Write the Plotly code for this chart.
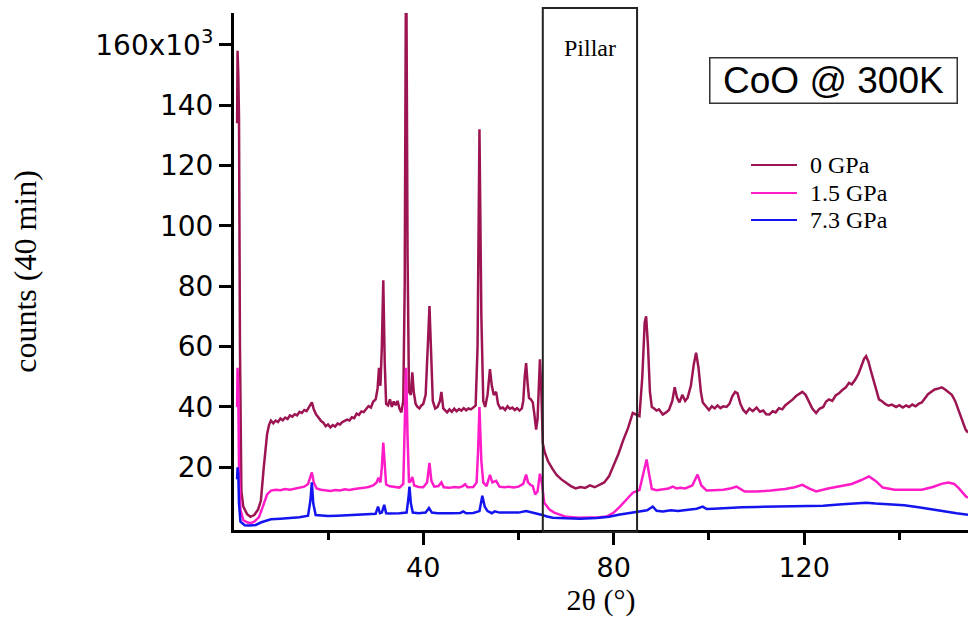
import plotly.graph_objects as go

# ---- data ----
x_0gpa = [0.9, 1.0, 1.15, 1.3, 1.5, 1.8, 2.2, 3.0, 3.7, 4.5, 5.3, 5.9, 6.5, 7.2, 7.6, 8.0, 8.5, 9.0, 9.5, 10,
          10.5, 11, 11.5, 12, 12.5, 13, 13.5, 14, 14.5, 15, 15.5, 16, 16.6, 17.0, 17.5, 18, 18.5, 19, 19.5, 20,
          20.5, 21, 21.5, 22, 22.5, 23, 23.5, 24, 24.5, 25, 25.5, 26, 26.5, 27, 27.5, 28, 28.5, 29, 29.5, 30,
          30.4, 30.7, 31.0, 31.3, 31.6, 31.9, 32.2, 32.6, 33, 33.4, 33.8, 34.2, 34.6, 35.0, 35.4, 35.8, 36.1, 36.4, 36.7, 37.0,
          37.4, 37.7, 38.0, 38.4, 38.8, 39.2, 39.6, 40.0, 40.5, 41.0, 41.3, 41.6, 42.0, 42.5, 43.0, 43.5, 43.8, 44.2, 44.6, 45,
          45.5, 46, 46.5, 47, 47.5, 48, 48.5, 49, 49.5, 50, 50.5, 51.0, 51.4, 51.8, 52.2, 52.6, 53, 53.5, 54.0, 54.4,
          54.8, 55.3, 55.7, 56.2, 56.7, 57.2, 57.7, 58.2, 58.7, 59.2, 59.7, 60.2, 60.7, 61.0, 61.3, 61.6, 61.9, 62.2, 62.6, 63.0,
          63.3, 63.7, 64.0, 64.3, 64.5, 64.8, 65.1, 65.5, 66.2, 67.2, 68, 69, 70, 71, 72, 73, 74, 75, 76, 77,
          78, 79, 80, 81, 82, 83, 84, 84.6, 85.4, 86.0, 86.5, 86.8, 87.2, 87.6, 88, 88.5, 89, 89.5, 90.3, 91,
          91.6, 92.3, 92.8, 93.3, 93.8, 94.4, 95, 95.5, 96.2, 96.8, 97.3, 97.8, 98.3, 98.7, 99.3, 100, 100.6, 101.2, 101.8, 102.4,
          103, 103.7, 104.3, 104.9, 105.5, 106.0, 106.6, 107.2, 107.8, 108.5, 109.2, 110, 110.7, 111.4, 112, 112.7, 113.4, 114, 114.7, 115.4,
          116, 116.9, 117.6, 118.3, 119, 119.6, 120.3, 121, 121.7, 122.5, 123.2, 124, 124.6, 125.2, 125.9, 126.6, 127.3, 128, 128.7, 129.4,
          130, 130.7, 131.4, 132, 132.6, 133, 133.5, 134, 134.6, 135.2, 135.7, 136.4, 137, 137.7, 138.4, 139.3, 140, 140.7, 141.4, 142,
          142.7, 143.4, 144, 144.7, 145.4, 146, 146.7, 147.4, 148, 148.9, 149.6, 150.3, 151, 151.7, 152.4, 153.1, 153.9, 154.4]
y_0gpa = [134, 158, 150, 136, 60, 12, 7, 4.5, 3.6, 4.2, 6, 9, 20, 31, 34, 35.5, 34.6, 35.5, 35, 36.2,
          35.6, 36.5, 36, 37.2, 36.8, 37.6, 37.2, 38.4, 38, 39, 38.6, 40, 41.5, 39.2, 37.5, 36.5, 35.4, 34.8, 33.6, 34.2,
          33.2, 34, 33.5, 34.5, 34.2, 35, 35.3, 35.8, 35.5, 36.6, 36.3, 37.8, 37.4, 38.5, 38.3, 39.5, 40.3, 39.8, 41.8, 42.5,
          46, 53, 47, 60, 82, 55, 41, 40.5, 42.5, 40, 41.8, 40.6, 42, 39.5, 38.2, 42, 80, 200, 90, 45,
          44, 51.5, 45, 41, 40, 39.5, 40.5, 41, 44, 62, 73.4, 60, 42, 39.5, 40, 42, 45, 39.5, 38.8, 38.2,
          39.2, 38.4, 39.4, 38.6, 39.3, 38.8, 39.6, 38.9, 39.5, 39.2, 39.8, 40.5, 60, 132, 70, 42, 40, 44, 52.5, 47,
          44, 45, 41, 39.5, 39.8, 39, 40.2, 39.4, 39.8, 39, 39.6, 38.8, 39.5, 42, 50, 54.5, 48, 43, 42.5, 41.5,
          38, 32.5, 36, 50, 55.8, 45, 28, 25, 22, 19.3, 17.5, 16, 14.8, 13.8, 13, 13.5, 13.2, 14, 13.4, 14.2,
          15, 17, 20.5, 24.5, 29, 33, 38, 37.5, 37, 50, 68, 70, 60, 45, 40, 39.5, 38.8, 39.2, 37.5, 38.2,
          39, 42, 46.5, 43, 41.5, 44, 42, 43, 47, 54, 58, 53, 45, 41.5, 40.5, 39, 40.2, 39.5, 40.5, 39.6,
          40.2, 40, 41, 43.5, 45, 44.5, 41, 39, 38, 39.5, 38.6, 39.8, 38.4, 38.8, 37.6, 37.5, 38.6, 38.2, 39.6, 39.2,
          40.5, 41.5, 42.5, 43.6, 44.5, 45, 44, 42, 39.5, 38, 39.4, 40, 41.8, 42.5, 42, 43.8, 44.5, 45.6, 46.4, 48,
          47.5, 49, 51, 53.5, 56, 56.8, 55, 52, 48.5, 44.5, 42.5, 41.8, 41, 40.4, 40.8, 40, 40.6, 39.8, 40.5, 40,
          40.8, 40.2, 41, 41.5, 43, 44.2, 45, 45.8, 46, 46.5, 45.8, 45, 44, 42, 39, 36, 32.5, 31.5]

x_15gpa = [0.9, 1.0, 1.15, 1.3, 1.6, 2.2, 3.0, 3.7, 4.5, 5.5, 6.3, 7.2, 8.0, 9, 10, 11, 12, 13, 14, 15,
           15.8, 16.3, 16.6, 17, 17.6, 18.5, 19.5, 20.5, 21.5, 22.5, 23.5, 24.5, 25.5, 26.5, 27.5, 28.5, 29.5, 30.2, 30.6, 31.0,
           31.3, 31.6, 31.9, 32.2, 33, 34, 35, 35.8, 36.1, 36.4, 36.7, 37.0, 37.4, 37.7, 38.1, 39, 40, 40.8, 41.3, 41.7,
           42.3, 43.2, 43.8, 44.3, 45.5, 46.5, 47.5, 48.3, 48.8, 49.3, 50.5, 51.2, 51.5, 51.8, 52.2, 52.6, 53.3, 54, 54.5, 55.3,
           56, 57, 58, 59, 60, 61, 61.6, 62, 62.5, 63, 63.5, 64, 64.5, 64.9, 65.4, 66.5, 67.5, 68.7, 70, 72.7,
           75, 77, 78.5, 80, 81.3, 82.5, 84, 85.4, 86.2, 86.9, 87.4, 88, 89, 90, 91.5, 92.4, 93.2, 94, 95, 96.5,
           97.6, 98.4, 99.5, 101, 103, 104.5, 105.8, 107.5, 110, 113, 116, 118, 119.6, 121, 122.5, 125, 128, 130, 132, 133.6,
           135, 136.5, 139, 142, 144.7, 147, 149, 150.3, 151.5, 152.5, 154, 154.4]
y_15gpa = [40, 53, 45, 20, 6, 2.5, 1.8, 1.5, 2, 3.5, 7, 11, 12.3, 12.6, 12.4, 12.8, 12.6, 13, 13.2, 13.6,
           14.5, 17, 18.3, 15, 13, 12.6, 12.4, 12.2, 12.5, 12.3, 12.7, 12.5, 12.8, 12.9, 13.2, 13.5, 14, 15, 16.6, 15,
           20, 28.2, 19, 14.3, 13.7, 13.5, 13.3, 14.5, 30, 53, 30, 15, 15.5, 16.8, 14, 13.5, 13.4, 15, 21.5, 15.5,
           13.6, 13.8, 15, 13.4, 13.2, 13.5, 13.3, 13.8, 14.4, 13.4, 13.5, 15, 25, 40, 22, 15, 13.8, 17.5, 15, 15.5,
           13.6, 13.4, 13.6, 13.3, 13.6, 14.5, 17.6, 15, 14.2, 13.8, 11, 12, 17.9, 15, 8.3, 6, 5, 4.3, 3.6, 3.3,
           3.3, 3.5, 3.7, 5, 7, 9, 11.6, 12.5, 18, 22.6, 18, 12.8, 12.4, 12.6, 13, 13.6, 13, 13.2, 13, 14,
           17.6, 14, 12.3, 12.4, 12.6, 13, 13.6, 12, 12, 12.3, 12.8, 13.4, 14.2, 13, 12, 13, 14, 14.5, 15.8, 17,
           15.5, 13.3, 12.6, 12.5, 12.6, 13.5, 14.6, 15, 14.5, 13, 10.3, 10]

x_73gpa = [0.9, 1.0, 1.15, 1.3, 1.6, 2.5, 3.5, 4.8, 6, 7, 8, 10, 12, 14, 15.8, 16.3, 16.6, 16.9, 17.4, 18.5,
           20, 22, 24, 26, 28, 30, 30.5, 30.9, 31.3, 31.8, 32.2, 33, 35, 36.5, 36.9, 37.1, 37.4, 37.8, 39, 40.5,
           41.2, 41.8, 43, 44.2, 46, 47.8, 48.4, 49, 50.5, 51.8, 52.4, 52.9, 53.5, 54.4, 55, 56, 58, 60, 61.6, 62.5,
           63.5, 64.5, 65, 66, 67.2, 70, 73, 76.4, 79, 81, 83.4, 85, 87, 88.2, 89, 90.3, 92, 93.5, 95, 97.4,
           98.7, 99.5, 101, 104, 107, 110, 113, 116, 120, 124, 128, 131, 133, 135, 138, 141, 144, 147, 150, 152,
           154.4]
y_73gpa = [16, 20, 18, 8, 2, 0.8, 0.7, 0.9, 1.8, 2.3, 2.8, 3, 3.2, 3.5, 4, 9, 15, 8, 4.2, 4,
           3.9, 4, 4.1, 4.2, 4.4, 4.6, 7, 4.8, 5, 7.6, 4.8, 4.7, 4.8, 5, 10, 13.6, 8, 5, 4.8, 5,
           6.5, 5, 4.8, 4.7, 4.8, 4.9, 5.4, 4.8, 4.9, 5.5, 10.6, 7, 5.5, 4.8, 5.4, 5, 4.9, 5, 5.5, 5.2,
           4.8, 4.5, 4.2, 3.7, 3.3, 3.1, 3, 3.2, 3.6, 4.3, 5, 5.4, 5.8, 7, 5.6, 5.4, 5.8, 5.5, 5.9, 6.3,
           7, 6.2, 6.3, 6.6, 6.8, 6.9, 7, 7.1, 7.2, 7.3, 7.8, 8, 8.3, 8, 7.8, 7.4, 6.8, 6, 5.3, 4.8,
           4.3]

series_names = ["0 GPa", "1.5 GPa", "7.3 GPa"]
series_colors = ["#9c1552", "#ff1cc8", "#1414ee"]

y_tick_vals = [20, 40, 60, 80, 100, 120, 140, 160]
y_tick_text = ["20", "40", "60", "80", "100", "120", "140", "160x10<sup>3</sup>"]
x_tick_vals = [40, 80, 120]
x_tick_text = ["40", "80", "120"]
x_minor_vals = [20, 60, 100, 140]

pillar_range = [65.1, 84.9]

# legend placement (paper coordinates)
legend_line_x = [0.7044, 0.767]
legend_text_x = 0.782
legend_rows_y = [0.706, 0.652, 0.5996]

# ---- figure ----
fig = go.Figure()
for xs, ys, name, col in zip([x_0gpa, x_15gpa, x_73gpa], [y_0gpa, y_15gpa, y_73gpa],
                             series_names, series_colors):
    fig.add_trace(go.Scatter(x=xs, y=ys, mode="lines", name=name,
                             line=dict(color=col, width=2.5)))

# hand-drawn legend matching the reference (tight line spacing)
for name, col, ry in zip(series_names, series_colors, legend_rows_y):
    fig.add_shape(type="line", xref="paper", yref="paper",
                  x0=legend_line_x[0], x1=legend_line_x[1], y0=ry, y1=ry,
                  line=dict(color=col, width=2))
    fig.add_annotation(text=name, xref="paper", yref="paper", x=legend_text_x, y=ry,
                       xanchor="left", yanchor="middle", showarrow=False,
                       font=dict(family="Liberation Serif", size=24, color="black"))

fig.add_shape(type="rect", xref="x", yref="paper",
              x0=pillar_range[0], x1=pillar_range[1], y0=-0.004, y1=1.0097,
              line=dict(color="#222222", width=2))

fig.add_annotation(text="Pillar", xref="x", yref="paper",
                   x=(pillar_range[0] + pillar_range[1]) / 2, y=0.932,
                   xanchor="center", yanchor="middle",
                   showarrow=False, font=dict(family="Liberation Serif", size=24, color="black"))

fig.add_annotation(text="CoO @ 300K", xref="paper", yref="paper", x=0.817, y=0.870,
                   xanchor="center", yanchor="middle",
                   showarrow=False, width=244, height=42, borderpad=1,
                   bordercolor="#333333", borderwidth=1.5, bgcolor="white",
                   font=dict(family="Liberation Sans", size=37, color="black"))

fig.update_layout(
    width=968, height=617,
    margin=dict(l=234, r=0, t=13, b=87),
    paper_bgcolor="white", plot_bgcolor="white",
    showlegend=False,
    xaxis=dict(range=[0.25, 154.4], showline=True, linecolor="black", linewidth=3,
               ticks="outside", ticklen=12, tickwidth=2.5, tickcolor="black",
               tickvals=x_tick_vals, ticktext=x_tick_text,
               minor=dict(tickvals=x_minor_vals, ticks="outside", ticklen=7, tickwidth=2.5, tickcolor="black"),
               showgrid=False, zeroline=False,
               tickfont=dict(family="DejaVu Sans", size=27, color="black"),
               title=dict(text="2θ (°)", standoff=7,
                          font=dict(family="Liberation Serif", size=30, color="black"))),
    yaxis=dict(range=[-0.76, 170.5], showline=True, linecolor="black", linewidth=3,
               ticks="outside", ticklen=12, tickwidth=2.5, tickcolor="black",
               tickvals=y_tick_vals, ticktext=y_tick_text,
               showgrid=False, zeroline=False,
               tickfont=dict(family="DejaVu Sans", size=28, color="black"),
               title=dict(text="counts (40 min)", standoff=50,
                          font=dict(family="Liberation Serif", size=32, color="black"))),
)

fig.write_html("out.html")
